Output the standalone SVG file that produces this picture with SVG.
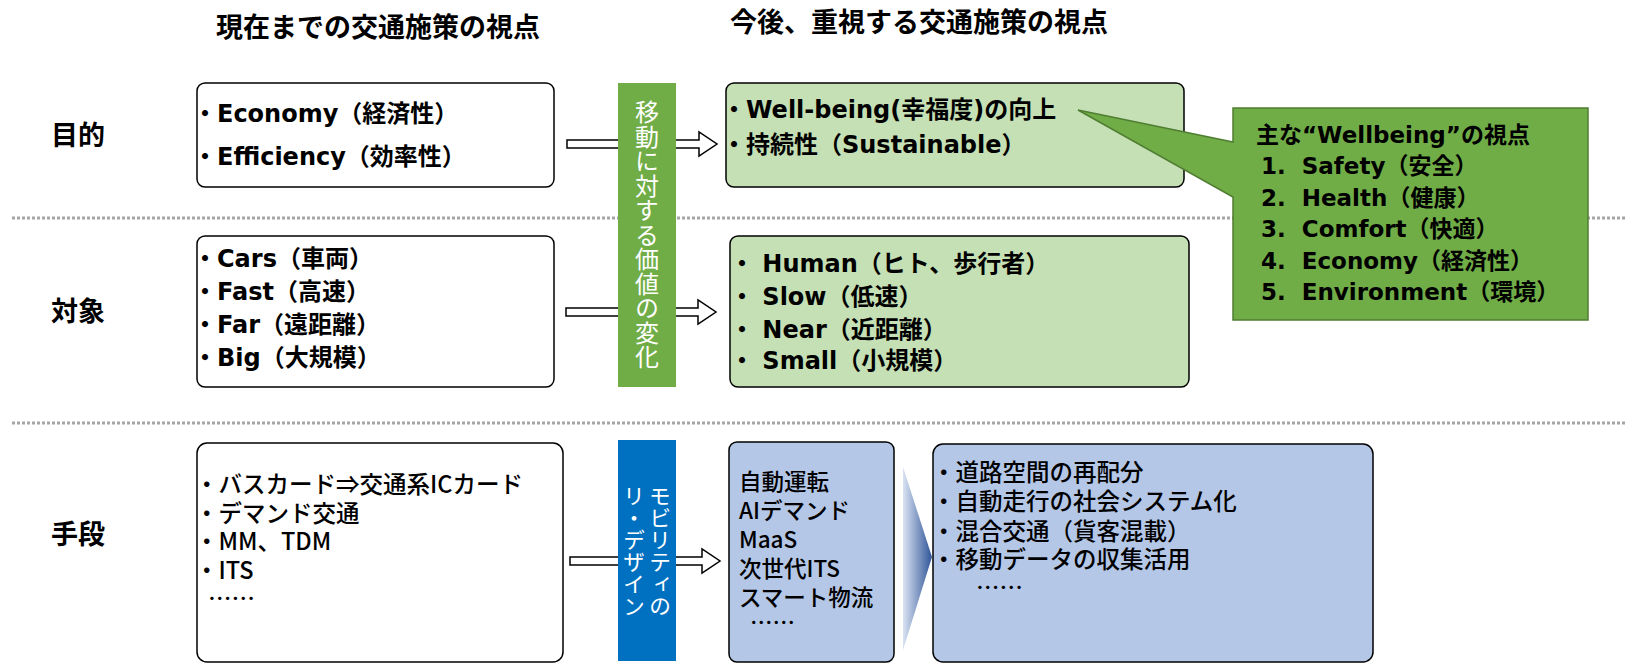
<svg xmlns="http://www.w3.org/2000/svg" width="1625" height="664" viewBox="0 0 1625 664">
<defs>
<style>
text{font-family:"Noto Sans CJK JP","Noto Sans",sans-serif;fill:#000;}
.title{font-size:27px;font-weight:bold;text-anchor:middle;}
.row{font-size:27px;font-weight:bold;text-anchor:middle;}
.t{font-family:"DejaVu Sans","Noto Sans CJK JP",sans-serif;font-size:24px;font-weight:bold;white-space:pre;}
.c{font-family:"DejaVu Sans","Noto Sans CJK JP",sans-serif;font-size:23px;font-weight:bold;white-space:pre;}
.t3{font-size:23.5px;font-weight:500;white-space:pre;}
.m3{font-size:22.5px;font-weight:500;white-space:pre;}
.vt{font-size:24px;fill:#fff;writing-mode:vertical-rl;text-anchor:middle;}
.vb{font-size:22px;fill:#fff;writing-mode:vertical-rl;text-anchor:middle;}
.box{fill:#fff;stroke:#000;stroke-width:1.5;}
.gbox{fill:#c5e0b4;stroke:#000;stroke-width:1.5;}
.bbox{fill:#b4c7e7;stroke:#000;stroke-width:1.5;}
.sep{stroke:#a6a6a6;stroke-width:3;stroke-dasharray:3 2;fill:none;}
.arr{fill:#fff;stroke:#000;stroke-width:1.5;}
</style>
<linearGradient id="chev" x1="0" y1="0" x2="1" y2="0">
<stop offset="0" stop-color="#dae3f3"/>
<stop offset="1" stop-color="#2f5597"/>
</linearGradient>
<path id="blockArrow" d="M0,-4 H132 V-12 L150,0 L132,12 V4 H0 Z"/>
</defs>

<g id="separators">
<line class="sep" x1="12" y1="218" x2="1625" y2="218"/>
<line class="sep" x1="12" y1="423" x2="1625" y2="423"/>
</g>

<g id="titles">
<text class="title" x="378" y="37">現在までの交通施策の視点</text>
<text class="title" x="919" y="32">今後、重視する交通施策の視点</text>
</g>

<g id="row-labels">
<text class="row" x="78" y="145">目的</text>
<text class="row" x="78" y="321">対象</text>
<text class="row" x="78" y="544">手段</text>
</g>

<g id="connectors">
<use href="#blockArrow" class="arr" transform="translate(567,144)"/>
<use href="#blockArrow" class="arr" transform="translate(566,312)"/>
<use href="#blockArrow" class="arr" transform="translate(570,561)"/>
<polygon points="903,467 932,557 903,650" fill="url(#chev)"/>
</g>

<g id="value-change-bar">
<rect x="618" y="83" width="58" height="304" fill="#70ad47"/>
<text class="vt" x="647" y="235" letter-spacing="0.5">移動に対する価値の変化</text>
</g>

<g id="redesign-bar">
<rect x="618" y="440" width="58" height="221" fill="#0070c0"/>
<text class="vb" x="660" y="551">モビリティの</text>
<text class="vb" x="634" y="551">リ・デザイン</text>
</g>

<g id="purpose-current">
<rect class="box" x="197" y="83" width="357" height="104" rx="8"/>
<text class="t" x="193" y="122">・Economy（経済性）</text>
<text class="t" x="193" y="165">・Efficiency（効率性）</text>
</g>

<g id="purpose-future">
<rect class="gbox" x="726" y="83" width="458" height="104" rx="8"/>
<text class="t" x="722" y="118">・Well-being(幸福度)の向上</text>
<text class="t" x="722" y="153">・持続性（Sustainable）</text>
</g>

<g id="target-current">
<rect class="box" x="197" y="236" width="357" height="151" rx="8"/>
<text class="t" x="193" y="267">・Cars（車両）</text>
<text class="t" x="193" y="300">・Fast（高速）</text>
<text class="t" x="193" y="333">・Far（遠距離）</text>
<text class="t" x="193" y="366">・Big（大規模）</text>
</g>

<g id="target-future">
<rect class="gbox" x="730" y="236" width="459" height="151" rx="8"/>
<text class="t" x="730" y="272">・ Human（ヒト、歩行者）</text>
<text class="t" x="730" y="305">・ Slow（低速）</text>
<text class="t" x="730" y="338">・ Near（近距離）</text>
<text class="t" x="730" y="369">・ Small（小規模）</text>
</g>

<g id="means-current">
<rect class="box" x="197" y="443" width="366" height="219" rx="10"/>
<text class="t3" x="195" y="493">・バスカード⇒交通系ICカード</text>
<text class="t3" x="195" y="522">・デマンド交通</text>
<text class="t3" x="195" y="550">・MM、TDM</text>
<text class="t3" x="195" y="579">・ITS</text>
<text class="t3" x="208" y="607">……</text>
</g>

<g id="means-tech">
<rect class="bbox" x="729" y="442" width="165" height="220" rx="8"/>
<text class="m3" x="739" y="490">自動運転</text>
<text class="m3" x="739" y="519">AIデマンド</text>
<text class="m3" x="739" y="548">MaaS</text>
<text class="m3" x="739" y="577">次世代ITS</text>
<text class="m3" x="739" y="606">スマート物流</text>
<text class="m3" x="750" y="631">……</text>
</g>

<g id="means-future">
<rect class="bbox" x="933" y="444" width="440" height="218" rx="10"/>
<text class="t3" x="932" y="481">・道路空間の再配分</text>
<text class="t3" x="932" y="510">・自動走行の社会システム化</text>
<text class="t3" x="932" y="540">・混合交通（貨客混載）</text>
<text class="t3" x="932" y="568">・移動データの収集活用</text>
<text class="t3" x="976" y="596">……</text>
</g>

<g id="wellbeing-callout">
<path d="M1233,108 H1588 V320 H1233 V197 L1078,110 L1233,142 Z" fill="#70ad47" stroke="#507e32" stroke-width="1.5"/>
<text class="c" x="1256" y="143">主な“Wellbeing”の視点</text>
<text class="c" x="1261" y="174">1.  Safety（安全）</text>
<text class="c" x="1261" y="206">2.  Health（健康）</text>
<text class="c" x="1261" y="237">3.  Comfort（快適）</text>
<text class="c" x="1261" y="269">4.  Economy（経済性）</text>
<text class="c" x="1261" y="300">5.  Environment（環境）</text>
</g>
</svg>
